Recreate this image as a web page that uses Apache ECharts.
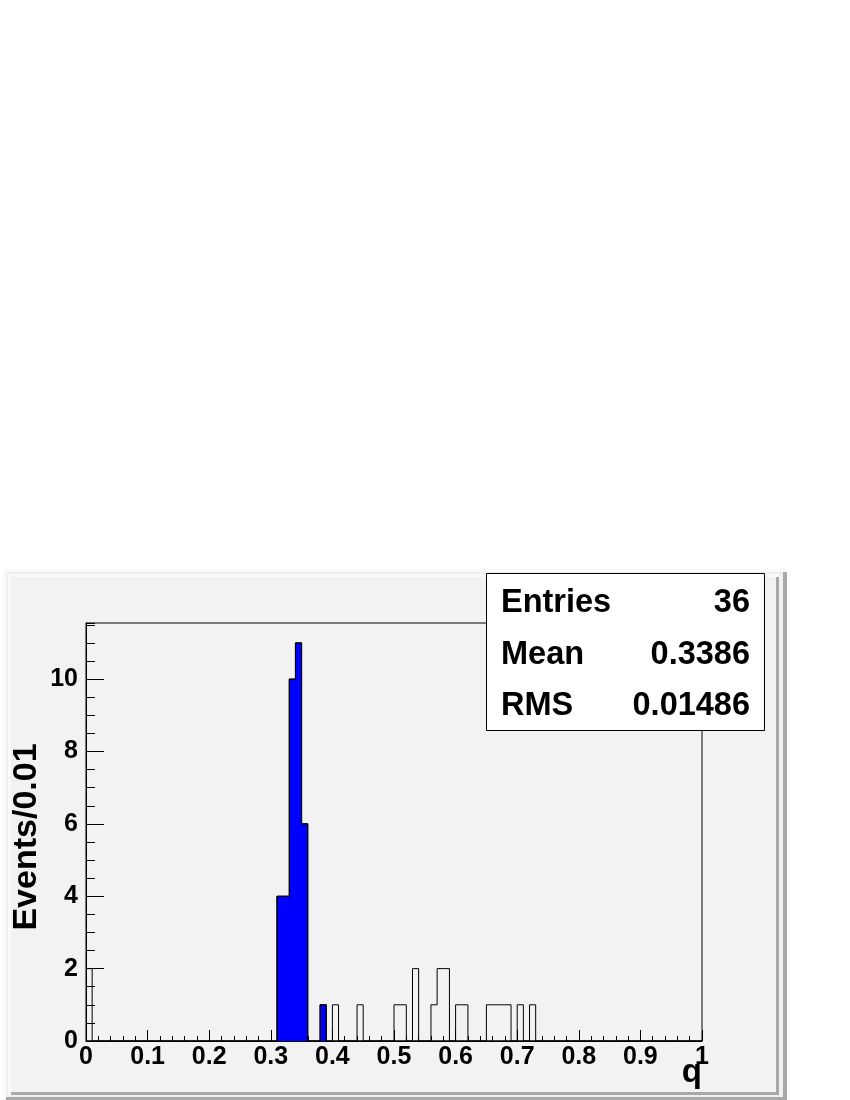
<!DOCTYPE html>
<html>
<head>
<meta charset="utf-8">
<script src="https://cdn.jsdelivr.net/npm/echarts@6/dist/echarts.min.js"></script>
<style>
  html, body { margin: 0; padding: 0; background: #fff; }
  #main { width: 850px; height: 1100px; }
</style>
</head>
<body>
<div id="main"></div>
<script>
// 数据：每格宽 0.01，从 0 到 1 共 100 格
const binWidth = 0.01;
const nBins = 100;
// 蓝色填充的格子（下沿 / 计数）
const fillLow = [0.31, 0.32, 0.33, 0.34, 0.35, 0.38];
const fillCounts = [4, 4, 10, 11, 6, 1];
// 只画轮廓的其余格子
const openLow = [0.00, 0.40, 0.44, 0.50, 0.51, 0.53, 0.56, 0.57, 0.58, 0.60, 0.61, 0.65, 0.66, 0.67, 0.68, 0.70, 0.72];
const openCounts = [2, 1, 1, 1, 1, 2, 1, 2, 2, 1, 1, 1, 1, 1, 1, 1, 1];
// 刻度文字
const xTickLabels = ['0', '0.1', '0.2', '0.3', '0.4', '0.5', '0.6', '0.7', '0.8', '0.9', '1'];
const yTickLabels = ['0', '2', '4', '6', '8', '10'];
// 轴标题
const xTitle = 'q';
const yTitle = 'Events/0.01';
// 统计框
const statNames = ['Entries', 'Mean', 'RMS'];
const statValues = ['36', '0.3386', '0.01486'];

const FONT = 'Liberation Sans';

// 把格子转成阶梯线的点
function toSteps(lows, counts, base) {
    var arr = base ? base.slice() : new Array(nBins).fill(0);
    for (var i = 0; i < lows.length; i++) {
        arr[Math.round(lows[i] / binWidth)] += counts[i];
    }
    return arr;
}
function stepPoints(arr) {
    var pts = [];
    for (var i = 0; i < arr.length; i++) {
        pts.push([+(i * binWidth).toFixed(2), arr[i]]);
    }
    pts.push([1, arr[arr.length - 1]]);
    return pts;
}
var fillArr = toSteps(fillLow, fillCounts);
var allArr = toSteps(openLow, openCounts, fillArr);

var chartDom = document.getElementById('main');
var myChart = echarts.init(chartDom);

// 画布和统计框
var graphics = [
    // 外层画布
    { type: 'rect', shape: { x: 3, y: 569, width: 784, height: 540 }, style: { fill: '#fafafa' }, z: -10 },
    { type: 'rect', shape: { x: 783, y: 572, width: 4, height: 540 }, style: { fill: '#a8a8a8' }, z: -9 },
    { type: 'rect', shape: { x: 6, y: 1097, width: 781, height: 10 }, style: { fill: '#a8a8a8' }, z: -9 },
    { type: 'rect', shape: { x: 6, y: 572, width: 777, height: 525 }, style: { fill: '#f0f0f0' }, z: -8 },
    // 内层 pad
    { type: 'rect', shape: { x: 8, y: 574, width: 771, height: 521 }, style: { fill: '#fafafa' }, z: -7 },
    { type: 'rect', shape: { x: 776, y: 577, width: 3, height: 518 }, style: { fill: '#a8a8a8' }, z: -6 },
    { type: 'rect', shape: { x: 11, y: 1092, width: 768, height: 3 }, style: { fill: '#a8a8a8' }, z: -6 },
    { type: 'rect', shape: { x: 11, y: 577, width: 765, height: 515 }, style: { fill: '#f2f2f2' }, z: -5 },
    // 统计框
    { type: 'rect', shape: { x: 486.5, y: 573.5, width: 278, height: 157 }, style: { fill: '#fff', stroke: '#000', lineWidth: 1 }, z: 100 },
    // 轴标题
    { type: 'text', x: 702, y: 1073, style: { text: xTitle, font: 'bold 33px "' + FONT + '"', fill: '#000', align: 'right', verticalAlign: 'middle' }, z: 100 },
    { type: 'text', x: 27, y: 837, rotation: Math.PI / 2, style: { text: yTitle, font: 'bold 34px "' + FONT + '"', fill: '#000', align: 'center', verticalAlign: 'middle' }, z: 100 }
];
var rowY = [603, 655, 706];
for (var i = 0; i < statNames.length; i++) {
    graphics.push({ type: 'text', x: 501, y: rowY[i], z: 101,
        style: { text: statNames[i], font: 'bold 32.5px "' + FONT + '"', fill: '#000', align: 'left', verticalAlign: 'middle' } });
    graphics.push({ type: 'text', x: 750, y: rowY[i], z: 101,
        style: { text: statValues[i], font: 'bold 32.5px "' + FONT + '"', fill: '#000', align: 'right', verticalAlign: 'middle' } });
}

var labelStyle = { color: '#000', fontFamily: FONT, fontWeight: 'bold', fontSize: 25 };

var option = {
    animation: false,
    backgroundColor: '#fff',
    grid: {
        left: 86, top: 623, width: 616, height: 418,
        outerBoundsMode: 'none', containLabel: false,
        show: true, backgroundColor: '#f2f2f2', borderColor: '#000', borderWidth: 1
    },
    graphic: graphics,
    xAxis: {
        type: 'value', min: 0, max: 1, interval: 0.1,
        axisLine: { show: true, lineStyle: { color: '#000', width: 1 } },
        axisTick: { show: true, inside: true, length: 11, lineStyle: { color: '#000' } },
        minorTick: { show: true, splitNumber: 5, length: 5, lineStyle: { color: '#000' } },
        splitLine: { show: false },
        axisLabel: Object.assign({ margin: 4, formatter: function (v, i) { return xTickLabels[i]; } }, labelStyle)
    },
    yAxis: [
        {
            type: 'value', min: 0, max: 11.55, interval: 2, position: 'left', offset: 0,
            axisLine: { show: true, lineStyle: { color: '#000', width: 1 } },
            axisTick: { show: true, inside: true, length: 18, lineStyle: { color: '#000' } },
            splitLine: { show: false },
            axisLabel: Object.assign({ margin: 8, showMaxLabel: false, formatter: function (v, i) { return yTickLabels[i] || ''; } }, labelStyle)
        },
        {
            type: 'value', min: 0, max: 11.55, interval: 0.5, position: 'left', offset: 0,
            axisLine: { show: true, lineStyle: { color: '#000', width: 1 } },
            axisTick: { show: true, inside: true, length: 9, lineStyle: { color: '#000' } },
            splitLine: { show: false },
            axisLabel: { show: false }
        }
    ],
    series: [
        {
            name: 'fill', type: 'line', step: 'end', yAxisIndex: 0,
            data: stepPoints(fillArr), symbol: 'none',
            lineStyle: { color: '#000', width: 1 },
            areaStyle: { color: '#0000ff', opacity: 1 }
        },
        {
            name: 'all', type: 'line', step: 'end', yAxisIndex: 0,
            data: stepPoints(allArr), symbol: 'none',
            lineStyle: { color: '#000', width: 1 }
        }
    ]
};
myChart.setOption(option);
</script>
</body>
</html>
